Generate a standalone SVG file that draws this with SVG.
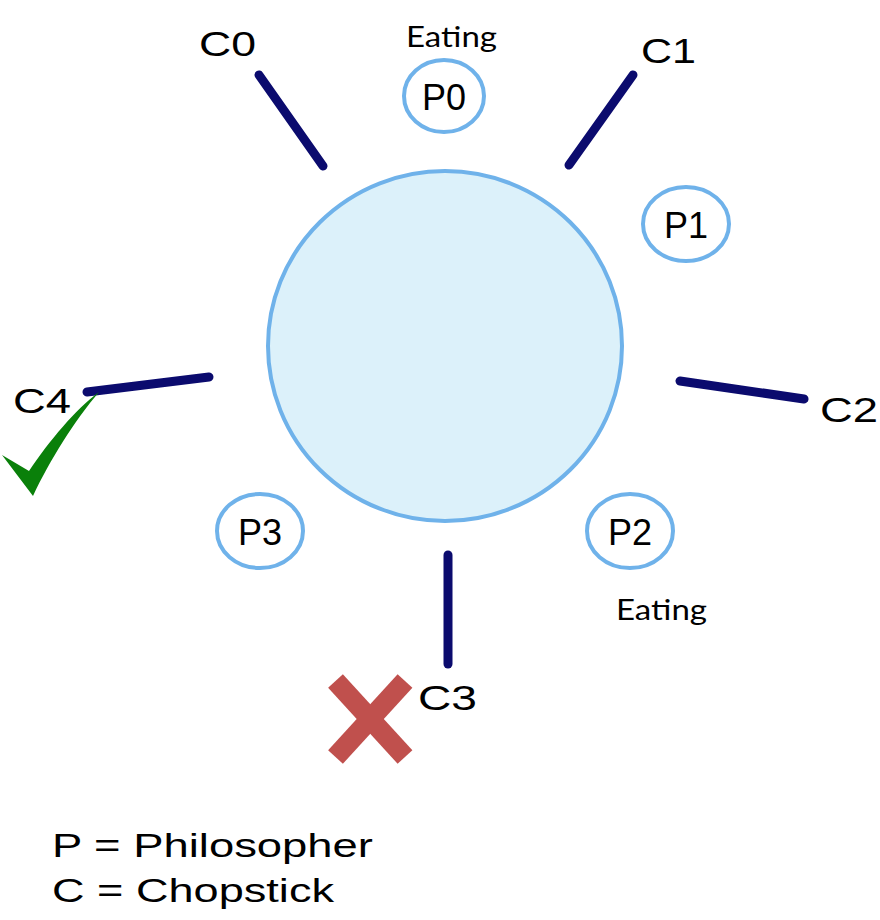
<svg xmlns="http://www.w3.org/2000/svg" width="880" height="920" viewBox="0 0 880 920">
  <style>
    .lbl { font-family: "Liberation Sans", Arial, sans-serif; fill: #000; }
    .c { font-size: 35px; }
    .p { font-size: 36px; text-anchor: middle; }
    .eat { font-family: Lato, "Open Sans", sans-serif; font-size: 29px; fill: #000; }
    .seat { fill: #ffffff; stroke: #6fb2ea; stroke-width: 4; }
    .stick { stroke: #0b0b6e; stroke-width: 9; stroke-linecap: round; fill: none; }
    .legend { font-family: "Liberation Sans", Arial, sans-serif; font-size: 33px; fill: #000; }
  </style>
  <rect width="880" height="920" fill="#ffffff"/>

  <g id="table">
    <ellipse cx="445" cy="346" rx="177" ry="175" fill="#dcf1fa" stroke="#6fb2ea" stroke-width="4"/>
  </g>

  <g id="connectors">
    <line class="stick" x1="259" y1="75" x2="323" y2="166"/>
    <line class="stick" x1="633" y1="75" x2="569" y2="165"/>
    <line class="stick" x1="680" y1="381" x2="804" y2="399"/>
    <line class="stick" x1="448" y1="555" x2="448" y2="664"/>
    <line class="stick" x1="87" y1="392" x2="209" y2="377"/>
  </g>

  <g id="C0"><text class="lbl c" x="199" y="56" textLength="57" lengthAdjust="spacingAndGlyphs">C0</text></g>
  <g id="C1"><text class="lbl c" x="641" y="63" textLength="55" lengthAdjust="spacingAndGlyphs">C1</text></g>
  <g id="C2"><text class="lbl c" x="820" y="422" textLength="58" lengthAdjust="spacingAndGlyphs">C2</text></g>
  <g id="C3"><text class="lbl c" x="418" y="710" textLength="59" lengthAdjust="spacingAndGlyphs">C3</text></g>
  <g id="C4"><text class="lbl c" x="13" y="413" textLength="58" lengthAdjust="spacingAndGlyphs">C4</text></g>

  <g id="P0">
    <ellipse class="seat" cx="444" cy="96" rx="40" ry="36"/>
    <text class="lbl p" x="444" y="110">P0</text>
  </g>
  <g id="P1">
    <ellipse class="seat" cx="686" cy="224" rx="43" ry="37"/>
    <text class="lbl p" x="686" y="238">P1</text>
  </g>
  <g id="P2">
    <ellipse class="seat" cx="630" cy="531" rx="43" ry="37"/>
    <text class="lbl p" x="630" y="545">P2</text>
  </g>
  <g id="P3">
    <ellipse class="seat" cx="260" cy="531" rx="43" ry="37"/>
    <text class="lbl p" x="260" y="545">P3</text>
  </g>

  <g id="eating-top"><text class="eat" x="406" y="47" textLength="91" lengthAdjust="spacingAndGlyphs">Eating</text></g>
  <g id="eating-bottom"><text class="eat" x="616" y="620" textLength="91" lengthAdjust="spacingAndGlyphs">Eating</text></g>

  <g id="check">
    <path d="M2,455 L29,471 C50,440 75,410 99,392 C75,420 50,460 33,496 Z" fill="#0a800a"/>
  </g>

  <g id="cross">
    <line x1="335.5" y1="681" x2="405" y2="757" stroke="#c0504d" stroke-width="20"/>
    <line x1="405" y1="681" x2="335.5" y2="757" stroke="#c0504d" stroke-width="20"/>
  </g>

  <g id="legend">
    <text class="legend" x="52" y="857" textLength="321" lengthAdjust="spacingAndGlyphs">P = Philosopher</text>
    <text class="legend" x="52" y="902" textLength="282" lengthAdjust="spacingAndGlyphs">C = Chopstick</text>
  </g>
</svg>
